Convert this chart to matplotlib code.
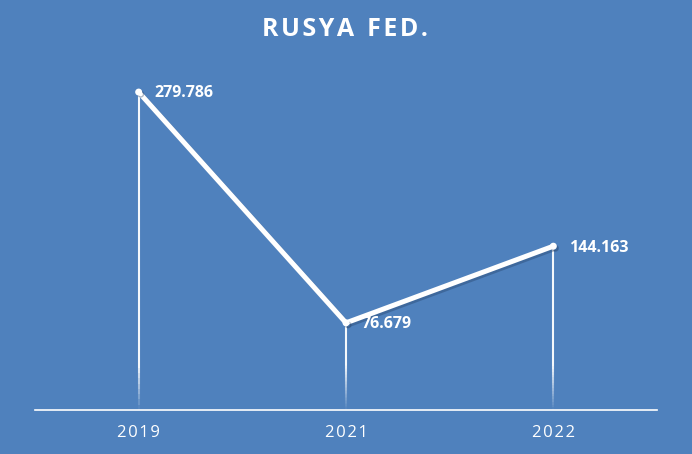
import matplotlib
matplotlib.use("Agg")
import matplotlib.pyplot as plt
import matplotlib.patheffects as pe
from matplotlib.collections import LineCollection
import numpy as np

years = ["2019", "2021", "2022"]
values = [279.786, 76.679, 144.163]
labels = ["279.786", "76.679", "144.163"]
title = "RUSYA  FED."

HS = "\u200a"
def spaced(s):
    return HS.join(s)

bg = "#4F81BD"
W, H = 692, 454
fig = plt.figure(figsize=(W/100, H/100), dpi=100, facecolor=bg)
ax = fig.add_axes([35/W, 1-410/H, 622/W, 350/H])
ax.set_facecolor(bg)
ax.set_xlim(-0.5, 2.5)
ax.set_ylim(0, 308)
for s in ["top", "right", "left"]:
    ax.spines[s].set_visible(False)
ax.spines["bottom"].set_color("white")
ax.spines["bottom"].set_linewidth(1.2)
ax.set_yticks([])
x = np.arange(len(years))
ax.set_xticks(x)
ax.set_xticklabels([spaced(y) for y in years], color="white", fontsize=12, family="Open Sans")
ax.tick_params(axis="x", length=0, pad=11)

# drop lines with fade
for xi, v in zip(x, values):
    n = 60
    ys = np.linspace(0, v, n+1)
    segs = [[(xi, ys[i]), (xi, ys[i+1])] for i in range(n)]
    mids = (ys[:-1] + ys[1:]) / 2
    fade = 40.0
    alph = np.clip(mids / fade, 0, 1) * 0.95
    cols = [(1, 1, 1, a) for a in alph]
    lc = LineCollection(segs, colors=cols, linewidths=1.5, zorder=2)
    ax.add_collection(lc)

ax.plot(x, values, color="white", lw=3.6, solid_capstyle="round",
        solid_joinstyle="miter", marker="o", markersize=4, zorder=3,
        path_effects=[pe.SimpleLineShadow(offset=(1.5, -1.5), shadow_color="#1f3a5f", alpha=0.35), pe.Normal()])

for xi, v, t in zip(x, values, labels):
    ax.annotate(t, (xi, v), xytext=(11, -1), textcoords="offset points",
                color="white", fontsize=11.5, fontweight="bold", family="Open Sans",
                ha="left", va="center", zorder=4)

ttl = "  ".join(spaced(w) for w in title.split("  "))
fig.text(345/W, 1-30/H, ttl, color="white", fontsize=18,
         fontweight="bold", family="Open Sans", ha="center", va="center")

fig.savefig("out.png", dpi=100, facecolor=bg)
